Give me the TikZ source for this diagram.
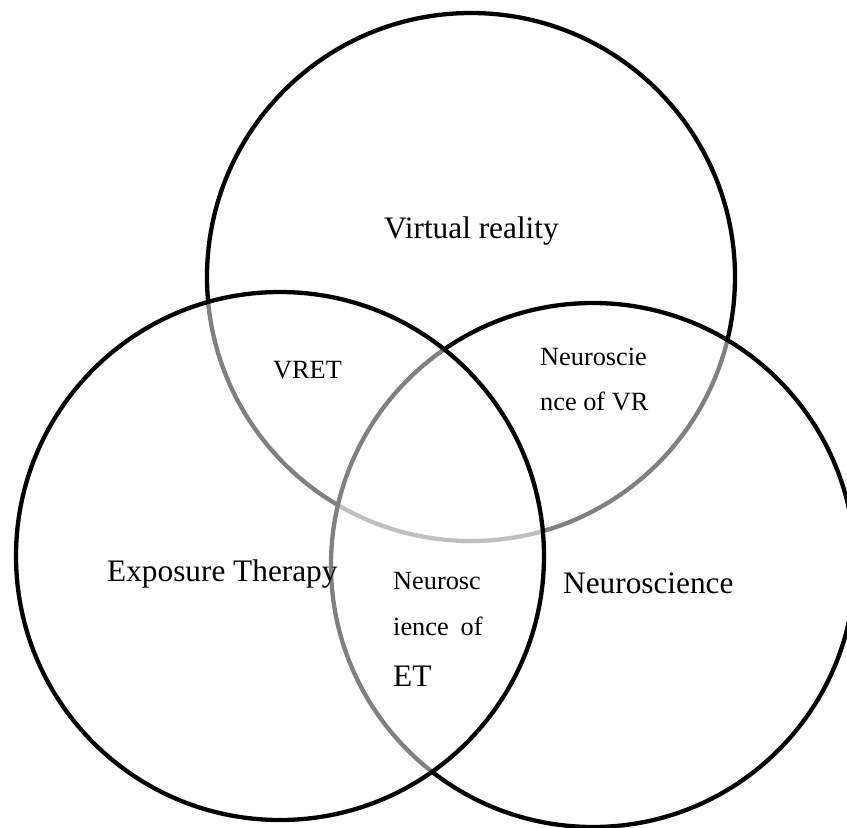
\documentclass[tikz,border=0pt]{standalone}
\usepackage{fontspec}
\setmainfont{Liberation Serif}
\begin{document}
\begin{tikzpicture}[x=1pt,y=-1pt,
  setcircle/.style={circle,draw=black,line width=4.3pt,inner sep=0pt,fill=white,fill opacity=0.5},
  biglabel/.style={anchor=base west,inner sep=0pt,font=\fontsize{31.3}{36}\selectfont},
  smalllabel/.style={anchor=base west,inner sep=0pt,font=\fontsize{26.3}{30}\selectfont}]
\useasboundingbox (0,0) rectangle (847,828);
\clip (0,0) rectangle (847,828);
\node[setcircle,minimum size=528pt] (vr) at (471,277) {};
\node[setcircle,minimum size=524pt] (ns) at (593,565) {};
\node[setcircle,minimum size=528pt] (et) at (280,556) {};
\node[biglabel] (lvr) at (384,238) {Virtual reality};
\node[smalllabel] (lvret) at (273,378) {VRET};
\node[smalllabel] (lnvr1) at (540,365) {Neuroscie};
\node[smalllabel] (lnvr2) at (540,410) {nce of VR};
\node[biglabel] (let) at (107,581) {Exposure Therapy};
\node[biglabel] (lns) at (563,593) {Neuroscience};
\node[smalllabel] (lnet1) at (393,589) {Neurosc};
\node[smalllabel] (lnet2) at (393,635) {ience\hspace{12pt}of};
\node[biglabel] (lnet3) at (393,686) {ET};
\end{tikzpicture}
\end{document}
